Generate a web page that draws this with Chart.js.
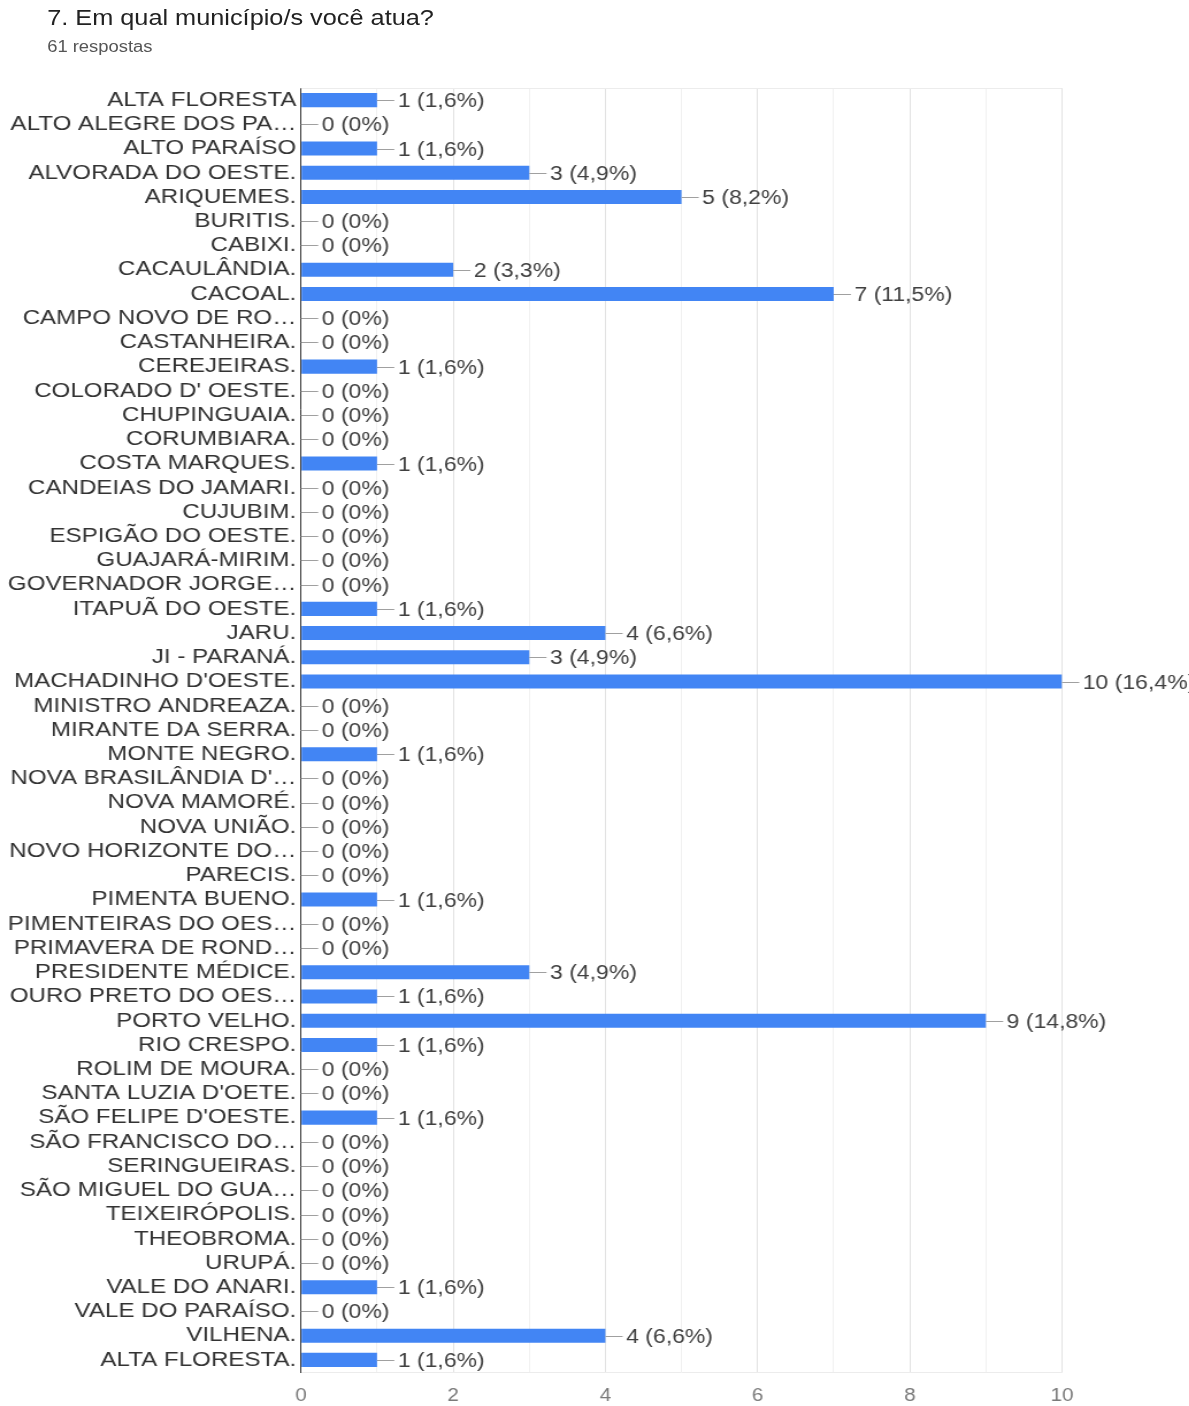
<!DOCTYPE html>
<html>
<head>
<meta charset="utf-8">
<script src="https://cdn.jsdelivr.net/npm/chart.js@4.4.1/dist/chart.umd.min.js"></script>
<style>
  html, body { margin: 0; padding: 0; background: #fff; overflow: hidden; }
  /* the reference screenshot is stretched sideways, so the whole box is too */
  #wrap { position: relative; width: 1034px; height: 1406px; transform: scaleX(1.15); transform-origin: 0 0;
          font-family: "Liberation Sans", Arial, sans-serif; }
  #myChart { position: absolute; left: 0; top: 0; }
  #title { position: absolute; left: 41px; top: 5px; font-size: 22px; line-height: 26px; color: #222; white-space: nowrap; }
  #sub { position: absolute; left: 41px; top: 38px; font-size: 16px; line-height: 18px; color: #555; white-space: nowrap; }
</style>
</head>
<body>
<div id="wrap">
  <canvas id="myChart" width="1034" height="1406" style="width:1034px;height:1406px"></canvas>
  <div id="title">7. Em qual município/s você atua?</div>
  <div id="sub">61 respostas</div>
</div>
<script>
  // data
  const municipios = [
    'ALTA FLORESTA', 'ALTO ALEGRE DOS PA…', 'ALTO PARAÍSO', 'ALVORADA DO OESTE.', 'ARIQUEMES.',
    'BURITIS.', 'CABIXI.', 'CACAULÂNDIA.', 'CACOAL.', 'CAMPO NOVO DE RO…',
    'CASTANHEIRA.', 'CEREJEIRAS.', "COLORADO D' OESTE.", 'CHUPINGUAIA.', 'CORUMBIARA.',
    'COSTA MARQUES.', 'CANDEIAS DO JAMARI.', 'CUJUBIM.', 'ESPIGÃO DO OESTE.', 'GUAJARÁ-MIRIM.',
    'GOVERNADOR JORGE…', 'ITAPUÃ DO OESTE.', 'JARU.', 'JI - PARANÁ.', "MACHADINHO D'OESTE.",
    'MINISTRO ANDREAZA.', 'MIRANTE DA SERRA.', 'MONTE NEGRO.', "NOVA BRASILÂNDIA D'…", 'NOVA MAMORÉ.',
    'NOVA UNIÃO.', 'NOVO HORIZONTE DO…', 'PARECIS.', 'PIMENTA BUENO.', 'PIMENTEIRAS DO OES…',
    'PRIMAVERA DE ROND…', 'PRESIDENTE MÉDICE.', 'OURO PRETO DO OES…', 'PORTO VELHO.', 'RIO CRESPO.',
    'ROLIM DE MOURA.', "SANTA LUZIA D'OETE.", "SÃO FELIPE D'OESTE.", 'SÃO FRANCISCO DO…', 'SERINGUEIRAS.',
    'SÃO MIGUEL DO GUA…', 'TEIXEIRÓPOLIS.', 'THEOBROMA.', 'URUPÁ.', 'VALE DO ANARI.',
    'VALE DO PARAÍSO.', 'VILHENA.', 'ALTA FLORESTA.'
  ];
  const respostas = [
    1, 0, 1, 3, 5,
    0, 0, 2, 7, 0,
    0, 1, 0, 0, 0,
    1, 0, 0, 0, 0,
    0, 1, 4, 3, 10,
    0, 0, 1, 0, 0,
    0, 0, 0, 1, 0,
    0, 3, 1, 9, 1,
    0, 0, 1, 0, 0,
    0, 0, 0, 0, 1,
    0, 4, 1
  ];
  const totalRespostas = 61;
  const xTicks = [0, 2, 4, 6, 8, 10];

  const FONT = '"Liberation Sans", Arial, sans-serif';

  function pctLabel(v) {
    if (v === 0) return '0 (0%)';
    return v + ' (' + (v * 100 / totalRespostas).toFixed(1).replace('.', ',') + '%)';
  }

  // "1 (1,6%)" labels with the little leader line
  const valueLabels = {
    id: 'valueLabels',
    afterDatasetsDraw(chart) {
      const ctx = chart.ctx;
      const meta = chart.getDatasetMeta(0);
      ctx.save();
      ctx.font = '20px ' + FONT;
      ctx.textBaseline = 'middle';
      ctx.lineWidth = 1;
      meta.data.forEach((bar, i) => {
        const x = bar.x, y = Math.round(bar.y);
        ctx.strokeStyle = '#a0a0a0';
        ctx.beginPath();
        ctx.moveTo(x, y + 0.5);
        ctx.lineTo(x + 15, y + 0.5);
        ctx.stroke();
        ctx.fillStyle = '#404040';
        ctx.fillText(pctLabel(respostas[i]), x + 18, y + 1);
      });
      ctx.restore();
    }
  };

  // light line along the top of the plot
  const topLine = {
    id: 'topLine',
    beforeDatasetsDraw(chart) {
      const {ctx, chartArea} = chart;
      ctx.save();
      ctx.strokeStyle = '#ececec';
      ctx.lineWidth = 1;
      ctx.beginPath();
      ctx.moveTo(chartArea.left, chartArea.top + 0.5);
      ctx.lineTo(chartArea.right, chartArea.top + 0.5);
      ctx.stroke();
      ctx.restore();
    }
  };

  const data = {
    labels: municipios,
    datasets: [{
      data: respostas,
      backgroundColor: '#4285f4',
      borderWidth: 0,
      barPercentage: 0.58,
      categoryPercentage: 1
    }]
  };

  const config = {
    type: 'bar',
    data: data,
    plugins: [topLine, valueLabels],
    options: {
      indexAxis: 'y',
      responsive: false,
      animation: false,
      devicePixelRatio: 1,
      layout: {
        padding: { top: 88, right: 110.5, bottom: 0, left: 0 }
      },
      plugins: {
        legend: { display: false },
        tooltip: { enabled: false }
      },
      scales: {
        x: {
          min: 0,
          max: 10,
          afterFit(scale) { scale.height = 34; },
          border: { color: '#ececec', width: 1 },
          grid: {
            drawTicks: false,
            color: (c) => (c.tick && c.tick.value % 2 === 0) ? '#e2e2e2' : '#f0f0f0'
          },
          ticks: {
            stepSize: 1,
            autoSkip: false,
            maxRotation: 0,
            padding: 13,
            color: '#7a7a7a',
            font: { family: FONT, size: 18 },
            callback: (v) => xTicks.includes(v) ? String(v) : ''
          }
        },
        y: {
          afterFit(scale) { scale.width = 261.7; },
          border: { color: '#333', width: 1 },
          grid: { display: false, drawTicks: false },
          ticks: {
            autoSkip: false,
            padding: 4,
            color: '#333',
            font: { family: FONT, size: 21 }
          }
        }
      }
    }
  };

  const myChart = new Chart(document.getElementById('myChart'), config);
</script>
</body>
</html>
